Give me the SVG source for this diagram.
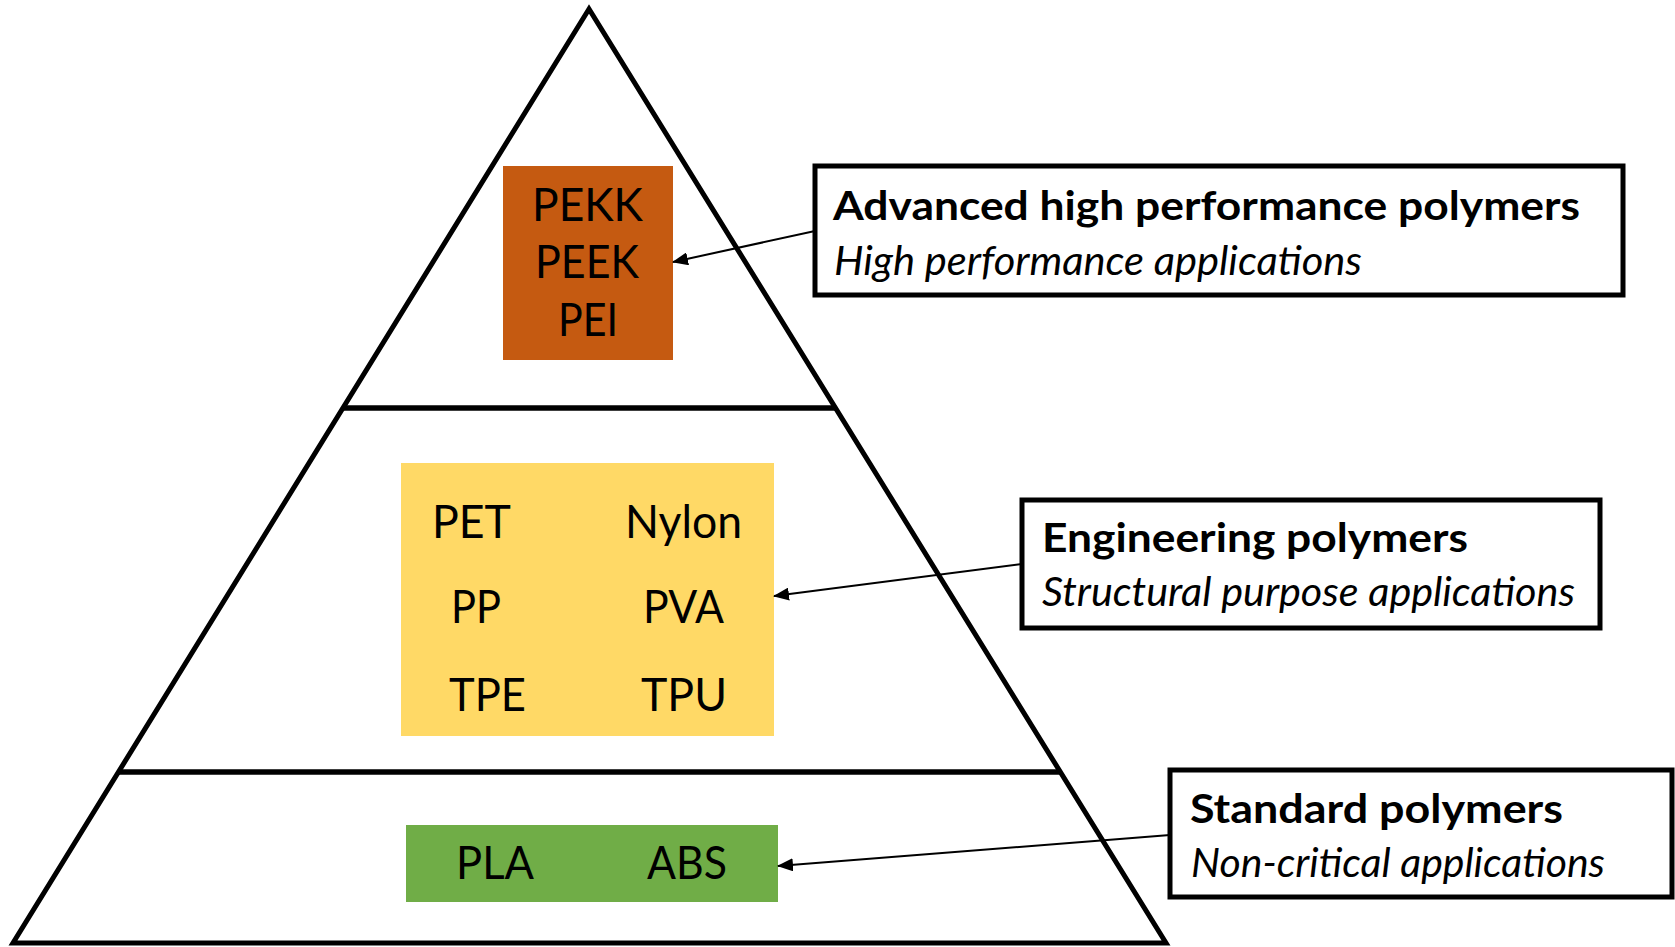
<svg xmlns="http://www.w3.org/2000/svg" width="1675" height="947" viewBox="0 0 1675 947">
  <defs>
    <marker id="arrowhead" markerUnits="userSpaceOnUse" markerWidth="16" markerHeight="13" viewBox="0 0 16 13" refX="15" refY="6.5" orient="auto">
      <path d="M0,0 L16,6.5 L0,13 Z" fill="#000"/>
    </marker>
  </defs>
  <style>
    .outline { fill: none; stroke: #000; stroke-width: 5; }
    .tier { stroke: #000; stroke-width: 5.5; }
    .grade { font-family: Lato, "Liberation Sans", sans-serif; font-size: 46px; fill: #000; }
    .label-box { fill: #fff; stroke: #000; stroke-width: 5; }
    .title { font-family: Lato, "Liberation Sans", sans-serif; font-size: 40px; font-weight: bold; fill: #000; }
    .subtitle { font-family: Lato, "Liberation Sans", sans-serif; font-size: 40px; font-style: italic; fill: #000; }
    .link { fill: none; stroke: #000; stroke-width: 2; marker-end: url(#arrowhead); }
  </style>

  <rect width="1675" height="947" fill="#fff"/>

  <!-- Pyramid outline and tier dividers -->
  <g id="pyramid">
    <polygon class="outline" points="589,9 13,943 1166,943"/>
    <line class="tier" x1="344" y1="408" x2="835" y2="408"/>
    <line class="tier" x1="118" y1="772" x2="1060" y2="772"/>
  </g>

  <!-- Top tier: advanced grades -->
  <g id="tier-advanced">
    <rect x="503" y="166" width="170" height="194" fill="#C55A11"/>
    <text class="grade" x="532" y="221" textLength="111" lengthAdjust="spacingAndGlyphs">PEKK</text>
    <text class="grade" x="535" y="278" textLength="104" lengthAdjust="spacingAndGlyphs">PEEK</text>
    <text class="grade" x="558" y="336" textLength="60" lengthAdjust="spacingAndGlyphs">PEI</text>
  </g>

  <!-- Middle tier: engineering grades -->
  <g id="tier-engineering">
    <rect x="401" y="463" width="373" height="273" fill="#FFD966"/>
    <text class="grade" x="432" y="538" textLength="79" lengthAdjust="spacingAndGlyphs">PET</text>
    <text class="grade" x="625" y="538" textLength="117" lengthAdjust="spacingAndGlyphs">Nylon</text>
    <text class="grade" x="451" y="623" textLength="50" lengthAdjust="spacingAndGlyphs">PP</text>
    <text class="grade" x="643" y="623" textLength="81" lengthAdjust="spacingAndGlyphs">PVA</text>
    <text class="grade" x="449" y="711" textLength="77" lengthAdjust="spacingAndGlyphs">TPE</text>
    <text class="grade" x="641" y="711" textLength="86" lengthAdjust="spacingAndGlyphs">TPU</text>
  </g>

  <!-- Bottom tier: standard grades -->
  <g id="tier-standard">
    <rect x="406" y="825" width="372" height="77" fill="#70AD47"/>
    <text class="grade" x="456" y="879" textLength="78" lengthAdjust="spacingAndGlyphs">PLA</text>
    <text class="grade" x="647" y="879" textLength="80" lengthAdjust="spacingAndGlyphs">ABS</text>
  </g>

  <!-- Category labels -->
  <g id="label-advanced">
    <rect class="label-box" x="815" y="166" width="808" height="129"/>
    <text class="title" x="833" y="220" textLength="747" lengthAdjust="spacingAndGlyphs">Advanced high performance polymers</text>
    <text class="subtitle" x="834" y="275" textLength="528" lengthAdjust="spacingAndGlyphs">High performance applications</text>
  </g>

  <g id="label-engineering">
    <rect class="label-box" x="1022" y="500" width="578" height="128"/>
    <text class="title" x="1042" y="552" textLength="426" lengthAdjust="spacingAndGlyphs">Engineering polymers</text>
    <text class="subtitle" x="1042" y="606" textLength="533" lengthAdjust="spacingAndGlyphs">Structural purpose applications</text>
  </g>

  <g id="label-standard">
    <rect class="label-box" x="1170" y="770" width="502" height="127"/>
    <text class="title" x="1190" y="823" textLength="373" lengthAdjust="spacingAndGlyphs">Standard polymers</text>
    <text class="subtitle" x="1191" y="877" textLength="414" lengthAdjust="spacingAndGlyphs">Non-critical applications</text>
  </g>

  <!-- Connectors from labels to tiers -->
  <g id="connectors">
    <line class="link" x1="815" y1="231" x2="673" y2="262"/>
    <line class="link" x1="1022" y1="564" x2="774" y2="596"/>
    <line class="link" x1="1170" y1="835" x2="778" y2="866"/>
  </g>
</svg>
